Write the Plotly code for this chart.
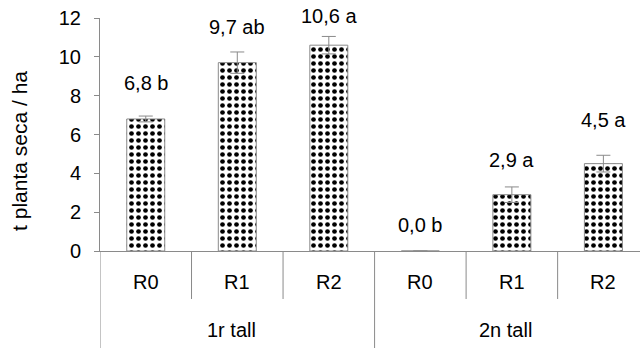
import plotly.graph_objects as go

# Dry matter yield per cutting and treatment
groups = ["1r tall", "2n tall"]
treatments = ["R0", "R1", "R2"]
dry_matter = [6.8, 9.7, 10.6, 0.0, 2.9, 4.5]
std_error = [0.15, 0.55, 0.45, 0.0, 0.4, 0.43]
letters = ["b", "ab", "a", "b", "a", "a"]
y_ticks = [0, 2, 4, 6, 8, 10, 12]

# pixel lift of each value label above its error bar
label_lift = [33, 25, 20, 26, 27, 35]

FONT = "Liberation Sans, Arial, sans-serif"
GREY = "#8a8a8a"

n_cat = len(groups) * len(treatments)
xpos = list(range(n_cat))

fig = go.Figure(
    go.Bar(
        x=xpos,
        y=dry_matter,
        width=0.415,
        marker=dict(
            color="white",
            line=dict(color=GREY, width=1),
            pattern=dict(shape=".", fgcolor="black", bgcolor="white",
                         size=7, solidity=0.36, fgopacity=1,
                         fillmode="overlay"),
        ),
        error_y=dict(type="data", array=std_error, visible=True,
                     color=GREY, thickness=1, width=7),
        hoverinfo="skip",
    )
)

annotations = []
for i, (v, e) in enumerate(zip(dry_matter, std_error)):
    annotations.append(dict(
        x=xpos[i], y=v + e, xref="x", yref="y",
        text=f"{v:.1f}".replace(".", ",") + " " + letters[i],
        showarrow=False, yanchor="middle", yshift=label_lift[i],
        font=dict(family=FONT, size=20, color="black"),
    ))

# inner category labels and tick lines
shapes = []
for gi, g in enumerate(groups):
    for ti, t in enumerate(treatments):
        k = gi * len(treatments) + ti
        annotations.append(dict(
            x=k, y=-0.133, xref="x", yref="paper", text=t,
            showarrow=False, yanchor="middle",
            font=dict(family=FONT, size=20, color="black"),
        ))
        if ti > 0:
            shapes.append(dict(type="line", xref="x", yref="paper",
                               x0=k - 0.5, x1=k - 0.5, y0=0, y1=-0.206,
                               line=dict(color=GREY, width=1)))
    # group label and divider
    mid = gi * len(treatments) + (len(treatments) - 1) / 2
    annotations.append(dict(
        x=mid, y=-0.339, xref="x", yref="paper", text=g,
        showarrow=False, yanchor="middle", xshift=-6,
        font=dict(family=FONT, size=20, color="black"),
    ))
    start = gi * len(treatments) - 0.5
    shapes.append(dict(type="line", xref="x", yref="paper",
                       x0=start, x1=start, y0=0, y1=-0.5,
                       line=dict(color=GREY, width=1)))

# y axis title
annotations.append(dict(
    x=-0.148, y=0.43, xref="paper", yref="paper",
    text="t planta seca / ha", textangle=-90, showarrow=False,
    xanchor="center", yanchor="middle",
    font=dict(family=FONT, size=21, color="black"),
))

fig.update_layout(
    width=640, height=348,
    margin=dict(l=100, r=0, t=18, b=97),
    paper_bgcolor="white", plot_bgcolor="white",
    showlegend=False,
    annotations=annotations,
    shapes=shapes,
    xaxis=dict(range=[-0.5, 5.4], showticklabels=False, showgrid=False,
               zeroline=False, showline=True, linecolor=GREY, linewidth=1,
               ticks=""),
    yaxis=dict(range=[0, 12], tickvals=y_ticks, ticks="outside", ticklen=5,
               tickcolor=GREY, showline=True, linecolor=GREY, linewidth=1,
               showgrid=False, zeroline=False, ticklabelstandoff=9,
               tickfont=dict(family=FONT, size=20, color="black")),
)

fig.write_html("out.html")
